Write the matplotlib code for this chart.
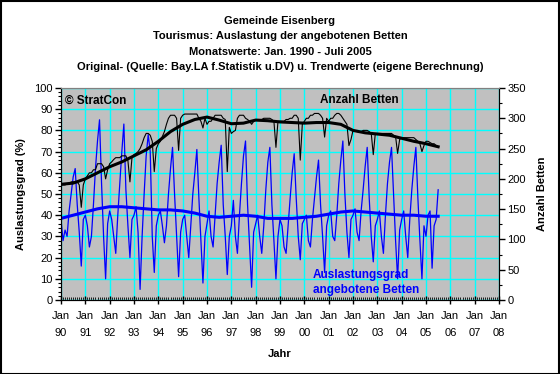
"""
Gemeinde Eisenberg - Auslastung der angebotenen Betten (Monatswerte 1990-2005)
"""

import numpy as np
import matplotlib.pyplot as plt
from matplotlib.ticker import MultipleLocator
from matplotlib.patches import Rectangle

plt.rcParams['font.family'] = ['Liberation Sans', 'DejaVu Sans']
plt.rcParams['font.size'] = 8

# ---------------------------------------------------------------------------
# Data  monthly values Jan 1990 - Jul 2005
# ---------------------------------------------------------------------------
auslastung = [
    38, 28, 33, 30, 42, 50, 58, 62, 45, 32, 16, 38,   # 1990
    40, 35, 25, 30, 45, 62, 75, 85, 55, 30, 10, 36,   # 1991
    42, 38, 30, 22, 40, 55, 70, 83, 52, 35, 20, 38,   # 1992
    40, 44, 32, 5, 30, 50, 68, 78, 70, 30, 13, 35,    # 1993
    40, 42, 35, 27, 35, 50, 62, 72, 50, 30, 11, 32,   # 1994
    38, 40, 30, 20, 35, 50, 60, 71, 48, 28, 8, 30,    # 1995
    36, 42, 30, 25, 40, 55, 65, 73, 45, 30, 12, 30,   # 1996
    35, 47, 30, 22, 40, 55, 68, 75, 45, 25, 6, 32,    # 1997
    36, 40, 30, 22, 35, 52, 65, 72, 45, 28, 10, 30,   # 1998
    38, 35, 25, 22, 35, 48, 60, 69, 48, 30, 19, 36,   # 1999
    38, 40, 28, 25, 38, 48, 58, 66, 45, 30, 13, 35,   # 2000
    40, 42, 30, 28, 40, 55, 66, 75, 50, 32, 20, 38,   # 2001
    40, 43, 32, 28, 42, 52, 63, 72, 48, 30, 18, 35,   # 2002
    38, 42, 30, 22, 40, 55, 65, 72, 50, 28, 10, 33,   # 2003
    38, 42, 30, 20, 38, 52, 63, 72, 48, 28, 10, 35,   # 2004
    30, 40, 42, 15, 35, 38, 52,                       # 2005
]

betten = [
    190, 190, 190, 192, 192, 195, 195, 195, 195, 190, 153, 190,   # 1990
    200, 205, 210, 210, 215, 215, 225, 225, 225, 220, 200, 215,   # 1991
    225, 228, 232, 235, 235, 235, 238, 238, 238, 230, 195, 235,   # 1992
    240, 242, 245, 250, 258, 268, 275, 275, 272, 262, 212, 250,   # 1993
    258, 262, 270, 278, 290, 300, 305, 305, 305, 300, 247, 300,   # 1994
    305, 307, 307, 307, 307, 307, 307, 307, 300, 295, 284, 300,   # 1995
    290, 295, 295, 300, 305, 305, 305, 305, 300, 298, 212, 285,   # 1996
    275, 278, 280, 300, 305, 305, 305, 300, 298, 295, 290, 295,   # 1997
    298, 298, 298, 298, 300, 300, 300, 300, 298, 295, 252, 295,   # 1998
    295, 295, 295, 298, 298, 300, 300, 305, 305, 300, 231, 290,   # 1999
    295, 300, 300, 305, 305, 308, 308, 308, 305, 300, 269, 300,   # 2000
    295, 300, 300, 305, 308, 308, 305, 300, 295, 290, 255, 265,   # 2001
    280, 280, 278, 278, 278, 280, 280, 280, 278, 275, 240, 275,   # 2002
    275, 275, 275, 275, 275, 275, 275, 275, 272, 270, 242, 265,   # 2003
    268, 268, 268, 268, 268, 268, 268, 265, 262, 258, 245, 255,   # 2004
    262, 262, 260, 258, 258, 255, 253,                            # 2005
]

# trend values (eigene Berechnung), half-yearly
trend_jahr = [1990.0, 1990.5, 1991.0, 1991.5, 1992.0, 1992.5, 1993.0, 1993.5,
              1994.0, 1994.5, 1995.0, 1995.5, 1996.0, 1996.5, 1997.0, 1997.5,
              1998.0, 1998.5, 1999.0, 1999.5, 2000.0, 2000.5, 2001.0, 2001.5,
              2002.0, 2002.5, 2003.0, 2003.5, 2004.0, 2004.5, 2005.0, 2005.5]
trend_auslastung = [38.5, 40, 41.5, 43, 44, 44, 43.5, 43,
                    42.5, 42.5, 42, 41, 39.5, 39, 39.5, 40,
                    39.5, 38.5, 38.5, 38.5, 39, 39.5, 40.5, 41.5,
                    42, 41.5, 41, 40.5, 40, 40, 39.5, 39.5]
trend_betten = [191, 193, 200, 210, 220, 228, 238, 248,
                262, 278, 290, 298, 302, 297, 291, 292,
                297, 296, 294, 293, 292, 293, 293, 290,
                280, 276, 274, 272, 267, 262, 258, 253]

jahre = list(range(1990, 2009))
jahr_labels = [f"Jan\n{j % 100:02d}" for j in jahre]

# ---------------------------------------------------------------------------
# Plot
# ---------------------------------------------------------------------------
fig = plt.figure(figsize=(5.6, 3.74), dpi=100)
fig.patches.append(Rectangle((0.001, 0.001), 0.997, 0.996, transform=fig.transFigure,
                             fill=False, edgecolor='black', linewidth=1.5))

ax = fig.add_axes([61 / 560, 1 - 300 / 374, 438 / 560, 212 / 374])
ax.set_facecolor('#C0C0C0')
ax2 = ax.twinx()

monate_a = 1990 + np.arange(len(auslastung)) / 12
monate_b = 1990 + np.arange(len(betten)) / 12

ax.plot(monate_a, auslastung, color='#0000FF', linewidth=0.9)
ax.plot(trend_jahr, trend_auslastung, color='#0000FF', linewidth=2.2)
ax2.plot(monate_b, betten, color='black', linewidth=0.8)
ax2.plot(trend_jahr, trend_betten, color='black', linewidth=2.2)

ax.set_xlim(1990, 2008)
ax.set_ylim(0, 100)
ax2.set_ylim(0, 350)

ax.set_xticks(jahre)
ax.set_xticklabels(jahr_labels, linespacing=1.9)
ax.xaxis.set_minor_locator(MultipleLocator(1 / 12))
ax.yaxis.set_major_locator(MultipleLocator(10))
ax.yaxis.set_minor_locator(MultipleLocator(2))
ax2.yaxis.set_major_locator(MultipleLocator(50))
ax2.yaxis.set_minor_locator(MultipleLocator(25))

ax.grid(True, which='major', color='#00FFFF', linewidth=1)
ax.set_axisbelow(True)

ax.tick_params(axis='x', which='major', direction='inout', length=6, width=1, pad=5)
ax.tick_params(axis='x', which='minor', direction='in', length=2, width=0.6)
ax.tick_params(axis='y', which='major', direction='out', length=4, width=1, pad=2)
ax.tick_params(axis='y', which='minor', direction='out', length=2, width=0.8)
ax2.tick_params(axis='y', which='major', direction='out', length=4, width=1, pad=2)
ax2.tick_params(axis='y', which='minor', direction='out', length=2, width=0.8)

for a in (ax, ax2):
    a.spines['top'].set_color('#808080')
    for s in ('left', 'right', 'bottom'):
        a.spines[s].set_color('black')

ax.set_ylabel('Auslastungsgrad (%)', fontweight='bold', labelpad=6)
ax2.set_ylabel('Anzahl Betten', fontweight='bold', labelpad=8)
ax.set_xlabel('Jahr', fontweight='bold', labelpad=8)

# titles
titel = ['Gemeinde Eisenberg',
         'Tourismus: Auslastung der angebotenen Betten',
         'Monatswerte: Jan. 1990 - Juli 2005',
         'Original- (Quelle: Bay.LA f.Statistik u.DV) u. Trendwerte (eigene Berechnung)']
for i, t in enumerate(titel):
    fig.text(0.5, 1 - (21 + 15.3 * i) / 374, t, ha='center', va='center',
             fontweight='bold')

ax.text(0.01, 0.97, '\u00a9 StratCon', transform=ax.transAxes, ha='left', va='top',
        fontweight='bold', fontsize=8.5)
ax.text(0.592, 0.97, 'Anzahl Betten', transform=ax.transAxes, ha='left', va='top',
        fontweight='bold', fontsize=8.5)
ax.text(0.575, 0.145, 'Auslastungsgrad\nangebotene Betten', transform=ax.transAxes,
        ha='left', va='top', fontweight='bold', fontsize=8.5, color='#0000FF',
        linespacing=1.25)

fig.savefig('out.png', dpi=100)
